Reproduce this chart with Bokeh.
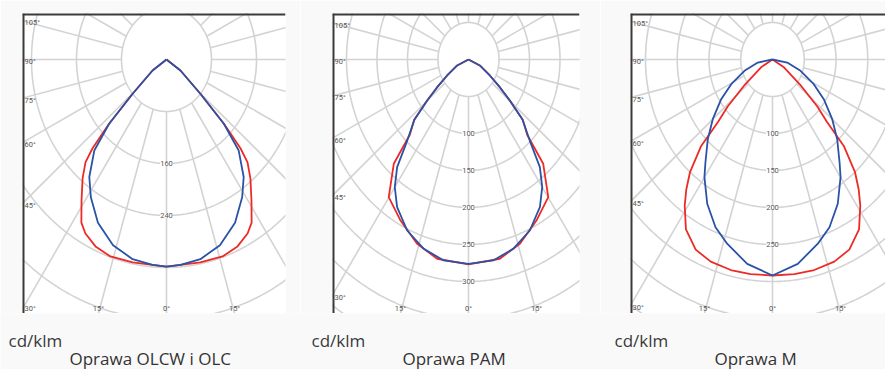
import numpy as np
from bokeh.plotting import figure
from bokeh.layouts import row, column
from bokeh.models import Range1d
from bokeh.core.properties import value
from bokeh.embed import file_html
from bokeh.resources import INLINE

# ---------------- data (angle from nadir in degrees, intensity in cd/klm) ----------------
p1_red_angle = [90, 55.8, 48.8, 45.9, 45.0, 43.9, 42.3, 39.2, 34.9, 31.1, 28.3, 23.7, 18.2, 10.9, 4.5, 0]
p1_red_cd = [0, 30, 80, 142, 161, 190, 214, 236, 264, 293, 304, 314, 319, 318, 317, 318.5]
p1_blue_angle = [90, 55.8, 48.8, 45.9, 42.5, 37.2, 32.4, 25.9, 18.4, 11.1, 4.5, 0]
p1_blue_cd = [0, 30, 80, 142, 190, 227, 251, 279, 301, 313, 317, 318.5]

p2_red_angle = [90, 66.4, 58.3, 53.9, 50.7, 47.5, 43.4, 41.0, 35.1, 27.1, 18.7, 10.8, 0]
p2_red_cd = [0, 20.2, 41.1, 63.5, 87.5, 121, 140, 186.7, 227.4, 244.5, 262.8, 274.1, 277]
p2_blue_angle = [90, 66.4, 58.3, 53.9, 50.7, 47.5, 42.5, 38.8, 35.0, 30.4, 23.5, 16.0, 8.5, 0]
p2_blue_cd = [0, 20.2, 41.1, 63.5, 87.5, 120, 148.6, 186.7, 210.7, 231.3, 252, 266.1, 274.6, 276.1]

p3_red_angle = [90, 60, 52, 48, 45.5, 43.8, 40.5, 37.7, 35.0, 30.7, 25.2, 19.6, 13.0, 6.8, 0]
p3_red_cd = [0, 20, 55, 95, 120, 163, 200, 222, 241, 267, 284, 290, 292, 292, 291.9]
p3_blue_angle = [90, 80, 70.9, 62.8, 56.4, 49.4, 43.4, 37.2, 34.0, 27.8, 21.6, 16.0, 8.2, 0]
p3_blue_cd = [0, 23.5, 46.7, 73.1, 97, 123.9, 148.3, 174.7, 191.7, 220.4, 243.8, 259, 279, 291.9]

p1_rings = [80, 160, 240, 320, 400, 480]
p1_ring_labels = [160, 240]
p23_rings = [50, 100, 150, 200, 250, 300, 350, 400]
p2_ring_labels = [100, 150, 200, 250, 300]
p3_ring_labels = [100, 150, 200, 250]

radial_angles = list(range(0, 360, 15))
angle_label_values = [-105, -90, -75, -60, -45, -30, -15, 0, 15]

titles = ["Oprawa OLCW i OLC", "Oprawa PAM", "Oprawa M"]
unit_label = "cd/klm"

RED = "#ec2b27"
BLUE = "#2a52a6"
GRID = "#d3d3d3"
BORDER = "#f9f9f9"

FONT_SMALL = value("Roboto")
FONT_BIG = value("Open Sans")

W = 885
FRAME_T, FRAME_B, CY, H = 13, 313, 59, 369


def half_to_full(angles, vals):
    a = np.radians(np.array(angles, dtype=float))
    v = np.array(vals, dtype=float)
    lx, ly = -v * np.sin(a), -v * np.cos(a)
    rx, ry = (v * np.sin(a))[::-1][1:], (-v * np.cos(a))[::-1][1:]
    return np.concatenate([lx, rx]), np.concatenate([ly, ry])


def make_panel(fig_left, fig_w, frame_l, frame_r, cx, sx, sy, rings, ring_labels, red, blue):
    xr = Range1d((frame_l - cx) / sx, (frame_r - cx) / sx)
    yr = Range1d(-(FRAME_B - CY) / sy, (CY - FRAME_T) / sy)
    p = figure(width=fig_w, height=FRAME_B, x_range=xr, y_range=yr,
               x_axis_type=None, y_axis_type=None, toolbar_location=None,
               output_backend="svg",
               min_border_left=frame_l - fig_left,
               min_border_right=fig_left + fig_w - frame_r,
               min_border_top=FRAME_T, min_border_bottom=0)
    p.outline_line_color = None
    p.background_fill_color = "white"
    p.border_fill_color = BORDER

    # rings
    t = np.linspace(0, 2 * np.pi, 721)
    p.multi_line([list(R * np.sin(t)) for R in rings], [list(R * np.cos(t)) for R in rings],
                 line_color=GRID, line_width=1.6)
    # radial lines (uniform screen angles), starting at the innermost ring
    r0 = rings[0]
    xs, ys = [], []
    for phi in radial_angles:
        ux, uy = np.sin(np.radians(phi)) / sx, -np.cos(np.radians(phi)) / sy
        n = np.hypot(ux, uy)
        ux, uy = ux / n, uy / n
        xs.append([r0 * ux, 3000 * ux])
        ys.append([r0 * uy, 3000 * uy])
    p.multi_line(xs, ys, line_color=GRID, line_width=1.6)

    # ring value labels
    p.text(x=[0] * len(ring_labels), y=[-R for R in ring_labels], text=[str(R) for R in ring_labels],
           text_align="center", text_baseline="middle", text_font=FONT_SMALL,
           text_font_size="7.5px", text_color="#555555", background_fill_color="white")

    # angle labels at the frame edge
    lx, ly, lt, bx, by, bt = [], [], [], [], [], []
    for phi in angle_label_values:
        ux, uy = np.sin(np.radians(phi)) / sx, -np.cos(np.radians(phi)) / sy
        cands = []
        if ux < 0:
            cands.append((xr.start / ux, "left"))
        if ux > 0:
            cands.append((xr.end / ux, "right"))
        if uy < 0:
            cands.append((yr.start / uy, "bottom"))
        if uy > 0:
            cands.append((yr.end / uy, "top"))
        tt, side = min(cands)
        txt = f"{abs(phi)}°"
        if side == "left":
            # keep the label inside the frame near the lower corner
            yy = max(tt * uy - 2 / sy, yr.start + 5 / sy)
            lx.append(xr.start); ly.append(yy); lt.append(txt)
        else:
            bx.append(tt * ux); by.append(yr.start); bt.append(txt)
    p.text(x=lx, y=ly, text=lt, text_align="left", text_baseline="middle", x_offset=2,
           text_font=FONT_SMALL, text_font_size="7.5px", text_color="#555555")
    p.text(x=bx, y=by, text=bt, text_align="center", text_baseline="bottom", y_offset=-1,
           text_font=FONT_SMALL, text_font_size="7.5px", text_color="#555555")

    # curves
    rx_, ry_ = half_to_full(*red)
    bx_, by_ = half_to_full(*blue)
    p.line(rx_, ry_, line_color=RED, line_width=1.8)
    p.line(bx_, by_, line_color=BLUE, line_width=1.8)

    # frame lines (left and top)
    p.line([xr.start, xr.start], [yr.start, yr.end], line_color="#3a3a3a", line_width=4)
    p.line([xr.start, xr.end], [yr.end, yr.end], line_color="#3a3a3a", line_width=4)
    return p


p1 = make_panel(0, 300, 22, 285, 166, 0.5625, 0.65, p1_rings, p1_ring_labels,
                (p1_red_angle, p1_red_cd), (p1_blue_angle, p1_blue_cd))
p2 = make_panel(300, 300, 332, 579, 468, 0.61, 0.74, p23_rings, p2_ring_labels,
                (p2_red_angle, p2_red_cd), (p2_blue_angle, p2_blue_cd))
p3 = make_panel(600, 285, 630, 885, 772, 0.635, 0.74, p23_rings, p3_ring_labels,
                (p3_red_angle, p3_red_cd), (p3_blue_angle, p3_blue_cd))

# caption strip below the three diagrams
unit_x = [8, 311, 614]
title_x = [69, 402, 714]
cap_h = H - FRAME_B
cap = figure(width=W, height=cap_h, x_range=Range1d(0, W), y_range=Range1d(0, cap_h),
             x_axis_type=None, y_axis_type=None, toolbar_location=None, output_backend="svg",
             min_border_left=0, min_border_right=0, min_border_top=0, min_border_bottom=0)
cap.outline_line_color = None
cap.background_fill_color = BORDER
cap.border_fill_color = BORDER
cap.text(x=unit_x, y=[29] * 3, text=[unit_label] * 3, text_font=FONT_BIG, text_font_size="17px",
         text_color="#3a3a3a", text_baseline="middle", text_align="left")
cap.text(x=title_x, y=[11] * 3, text=titles, text_font=FONT_BIG, text_font_size="17px",
         text_color="#333333", text_baseline="middle", text_align="left")

layout = column(row(p1, p2, p3, spacing=0), cap, spacing=0)
open("out.html", "w").write(file_html(layout, INLINE))
